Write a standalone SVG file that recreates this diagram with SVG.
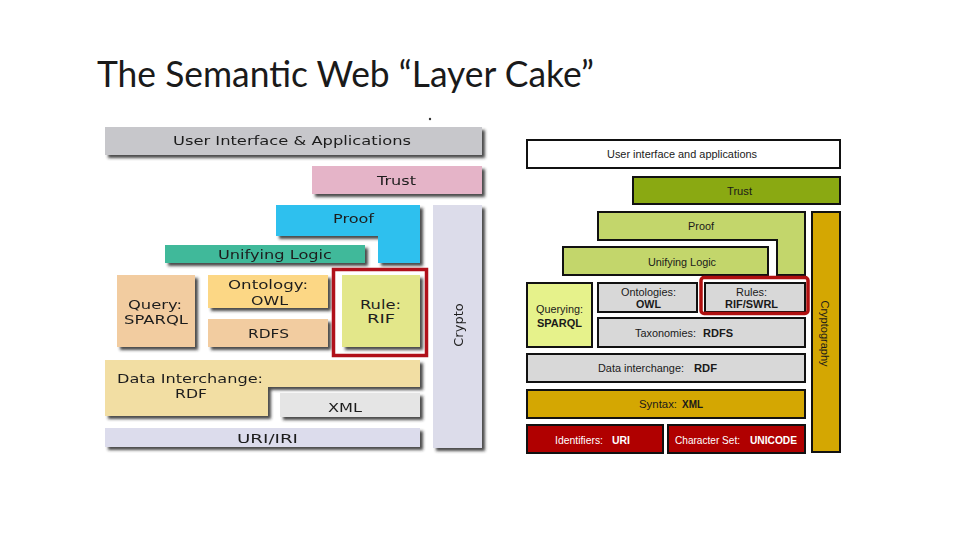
<svg xmlns="http://www.w3.org/2000/svg" width="960" height="540" viewBox="0 0 960 540">
<style>
.lt{font-family:"DejaVu Sans","Verdana",sans-serif;font-size:13px;fill:#1e1e1e;text-anchor:middle}
.rt{font-family:"Liberation Sans",Arial,sans-serif;font-size:11px;fill:#1a1a1a}
.rs{font-size:10px}
.rc{text-anchor:middle}
.b{font-weight:bold}
.w{fill:#ffffff}
.rb{stroke:#111;stroke-width:2}
</style>
<defs>
<filter id="sh" x="-10%" y="-10%" width="130%" height="140%">
<feDropShadow dx="3" dy="3" stdDeviation="1.4" flood-color="#2a2a2a" flood-opacity="0.85"/>
</filter>
</defs>
<rect width="960" height="540" fill="#ffffff"/>
<text x="97" y="87" font-family="Lato,'Open Sans',sans-serif" font-size="36" fill="#1a1a1a" textLength="497" lengthAdjust="spacingAndGlyphs">The Semantic Web “Layer Cake”</text>
<circle cx="430" cy="119" r="1.2" fill="#333"/>

<!-- Left diagram -->
<g id="left">
<g id="l-ui" filter="url(#sh)"><rect x="105" y="127" width="377" height="28" fill="#c7c7cb"/><text class="lt" x="292" y="145" textLength="238" lengthAdjust="spacingAndGlyphs">User Interface &amp; Applications</text></g>
<g id="l-trust" filter="url(#sh)"><rect x="312" y="166" width="170" height="28" fill="#e5b4c8"/><text class="lt" x="396.5" y="185" textLength="39" lengthAdjust="spacingAndGlyphs">Trust</text></g>
<g id="l-proof" filter="url(#sh)"><path d="M276,205 H420 V263 H378 V236 H276 Z" fill="#2ec0ee"/><text class="lt" x="353.5" y="223" textLength="41" lengthAdjust="spacingAndGlyphs">Proof</text></g>
<g id="l-crypto" filter="url(#sh)"><rect x="433" y="205" width="49" height="243" fill="#dcdcea"/><text class="lt" transform="translate(463,325) rotate(-90)">Crypto</text></g>
<g id="l-logic" filter="url(#sh)"><rect x="165" y="245" width="200" height="18" fill="#41b99a"/><text class="lt" x="275" y="259" textLength="114" lengthAdjust="spacingAndGlyphs">Unifying Logic</text></g>
<g id="l-query" filter="url(#sh)"><rect x="117" y="275" width="78" height="72" fill="#f2cca0"/><text class="lt" x="155" y="309" textLength="54" lengthAdjust="spacingAndGlyphs">Query:</text><text class="lt" x="156" y="324" textLength="64" lengthAdjust="spacingAndGlyphs">SPARQL</text></g>
<g id="l-owl" filter="url(#sh)"><rect x="208" y="275" width="120" height="33" fill="#fcd785"/><text class="lt" x="268" y="289" textLength="80" lengthAdjust="spacingAndGlyphs">Ontology:</text><text class="lt" x="269.5" y="305" textLength="37" lengthAdjust="spacingAndGlyphs">OWL</text></g>
<g id="l-rdfs" filter="url(#sh)"><rect x="208" y="319" width="120" height="28" fill="#f2cca0"/><text class="lt" x="268.5" y="338" textLength="41" lengthAdjust="spacingAndGlyphs">RDFS</text></g>
<g id="l-rule"><rect x="342" y="275" width="78" height="72" fill="#e3e78a" filter="url(#sh)"/><text class="lt" x="380.5" y="309" textLength="41" lengthAdjust="spacingAndGlyphs">Rule:</text><text class="lt" x="381" y="323" textLength="28" lengthAdjust="spacingAndGlyphs">RIF</text><rect x="333.5" y="269.5" width="93" height="86" fill="none" stroke="#b0101a" stroke-width="3.5"/></g>
<g id="l-rdf" filter="url(#sh)"><path d="M105,360 H420 V387 H268 V416 H105 Z" fill="#f2dea3"/><text class="lt" x="190" y="383" textLength="146" lengthAdjust="spacingAndGlyphs">Data Interchange:</text><text class="lt" x="191" y="398" textLength="32" lengthAdjust="spacingAndGlyphs">RDF</text></g>
<g id="l-xml" filter="url(#sh)"><rect x="280" y="393" width="140" height="24" fill="#e5e5e5"/><text class="lt" x="345" y="412" textLength="34" lengthAdjust="spacingAndGlyphs">XML</text></g>
<g id="l-uri" filter="url(#sh)"><rect x="105" y="428" width="315" height="19" fill="#dcdcec"/><text class="lt" x="267.5" y="443" textLength="61" lengthAdjust="spacingAndGlyphs">URI/IRI</text></g>
</g>

<!-- Right diagram -->
<g id="right">
<g id="r-ui"><rect class="rb" x="527" y="140" width="313" height="28" fill="#ffffff"/><text class="rt rc" x="682" y="158" textLength="150" lengthAdjust="spacingAndGlyphs">User interface and applications</text></g>
<g id="r-trust"><rect class="rb" x="633" y="177" width="207" height="27" fill="#8aa912"/><text class="rt rc" x="739.5" y="195" textLength="25" lengthAdjust="spacingAndGlyphs">Trust</text></g>
<g id="r-proof"><path class="rb" d="M598,212 H805 V275 H777 V240 H598 Z" fill="#c3d66b"/><text class="rt rc" x="701" y="230" textLength="26" lengthAdjust="spacingAndGlyphs">Proof</text></g>
<g id="r-logic"><rect class="rb" x="563" y="247" width="205" height="28" fill="#c3d66b"/><text class="rt rc" x="682" y="266" textLength="68" lengthAdjust="spacingAndGlyphs">Unifying Logic</text></g>
<g id="r-crypto"><rect class="rb" x="812" y="212" width="28" height="240" fill="#d4a702"/><text class="rt rc" transform="translate(821,333.5) rotate(90)">Cryptography</text></g>
<g id="r-query"><rect class="rb" x="527" y="283" width="65" height="64" fill="#e6f28b"/><text class="rt rc" x="559.5" y="313" textLength="47" lengthAdjust="spacingAndGlyphs">Querying:</text><text class="rt rc b" x="559.5" y="327" textLength="45" lengthAdjust="spacingAndGlyphs">SPARQL</text></g>
<g id="r-owl"><rect class="rb" x="598" y="283" width="99" height="29" fill="#d8d8d8"/><text class="rt rs rc" x="648.5" y="295.5" textLength="55" lengthAdjust="spacingAndGlyphs">Ontologies:</text><text class="rt rs rc b" x="648.5" y="307.5" textLength="25" lengthAdjust="spacingAndGlyphs">OWL</text></g>
<g id="r-rules"><rect class="rb" x="705" y="283" width="100" height="29" fill="#d8d8d8"/><text class="rt rs rc" x="751.5" y="295.5" textLength="31" lengthAdjust="spacingAndGlyphs">Rules:</text><text class="rt rs rc b" x="751.5" y="307.5" textLength="53" lengthAdjust="spacingAndGlyphs">RIF/SWRL</text><rect x="701" y="277.5" width="107" height="36" rx="3" fill="none" stroke="#b01010" stroke-width="3.5"/></g>
<g id="r-rdfs"><rect class="rb" x="598" y="318" width="207" height="29" fill="#d8d8d8"/><text class="rt" x="635" y="337" textLength="61" lengthAdjust="spacingAndGlyphs">Taxonomies:</text><text class="rt b" x="703" y="337" textLength="30" lengthAdjust="spacingAndGlyphs">RDFS</text></g>
<g id="r-rdf"><rect class="rb" x="527" y="354" width="278" height="28" fill="#d8d8d8"/><text class="rt" x="598" y="372" textLength="86" lengthAdjust="spacingAndGlyphs">Data interchange:</text><text class="rt b" x="694" y="372" textLength="23" lengthAdjust="spacingAndGlyphs">RDF</text></g>
<g id="r-xml"><rect class="rb" x="527" y="390" width="278" height="28" fill="#d4a702"/><text class="rt" x="639" y="408" textLength="38" lengthAdjust="spacingAndGlyphs">Syntax:</text><text class="rt b" x="682" y="408" textLength="21" lengthAdjust="spacingAndGlyphs">XML</text></g>
<g id="r-uri"><rect class="rb" x="527" y="425" width="136" height="28" fill="#b00000"/><text class="rt w" x="555" y="444" textLength="48" lengthAdjust="spacingAndGlyphs">Identifiers:</text><text class="rt w b" x="612" y="444" textLength="18" lengthAdjust="spacingAndGlyphs">URI</text></g>
<g id="r-unicode"><rect class="rb" x="668" y="425" width="137" height="28" fill="#b00000"/><text class="rt w" x="675" y="444" textLength="65" lengthAdjust="spacingAndGlyphs">Character Set:</text><text class="rt w b" x="750" y="444" textLength="47" lengthAdjust="spacingAndGlyphs">UNICODE</text></g>
</g>
<g id="connectors"/>
</svg>
